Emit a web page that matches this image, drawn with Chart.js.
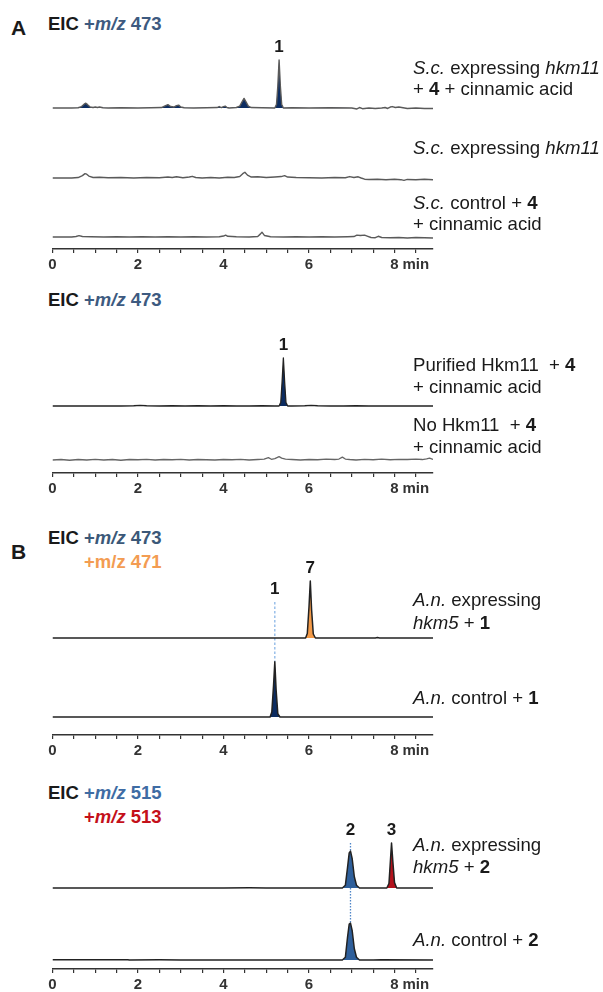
<!DOCTYPE html>
<html>
<head>
<meta charset="utf-8">
<script src="https://cdn.jsdelivr.net/npm/chart.js@4.4.1/dist/chart.umd.min.js"></script>
<style>
  html, body { margin: 0; padding: 0; background: #fff; overflow: hidden; }
  #fig { position: relative; width: 603px; height: 992px; font-family: 'Liberation Sans', Arial, sans-serif; color: #1a1a1a; }
  canvas { position: absolute; left: 0; }
  .lbl { position: absolute; left: 413px; font-size: 18.6px; line-height: 22px; white-space: nowrap; }
  .head { position: absolute; left: 48px; font-size: 18.5px; font-weight: bold; line-height: 24px; white-space: nowrap; }
  .panel { position: absolute; left: 11px; font-size: 21px; font-weight: bold; line-height: 24px; }
</style>
</head>
<body>
<div id="fig">
  <div class="panel" style="top:16px">A</div>
  <div class="head" style="top:12px">EIC <span style="color:#3d5a80">+<i>m/z</i> 473</span></div>
  <canvas id="g1" width="603" height="247" style="top:30px"></canvas>
  <div class="lbl" style="top:57px"><i>S.c.</i> expressing <i>hkm11</i></div>
  <div class="lbl" style="top:78px">+ <b>4</b> + cinnamic acid</div>
  <div class="lbl" style="top:137px"><i>S.c.</i> expressing <i>hkm11</i></div>
  <div class="lbl" style="top:192px"><i>S.c.</i> control + <b>4</b></div>
  <div class="lbl" style="top:213px">+ cinnamic acid</div>

  <div class="head" style="top:288px">EIC <span style="color:#3d5a80">+<i>m/z</i> 473</span></div>
  <canvas id="g2" width="603" height="181" style="top:320px"></canvas>
  <div class="lbl" style="top:354px">Purified Hkm11&nbsp; + <b>4</b></div>
  <div class="lbl" style="top:376px">+ cinnamic acid</div>
  <div class="lbl" style="top:414px">No Hkm11&nbsp; + <b>4</b></div>
  <div class="lbl" style="top:436px">+ cinnamic acid</div>

  <div class="panel" style="top:540px">B</div>
  <div class="head" style="top:526px">EIC <span style="color:#3b5878">+<i>m/z</i> 473</span><br><span style="visibility:hidden">EIC </span><span style="color:#f39c52">+m/z 471</span></div>
  <canvas id="g3" width="603" height="213" style="top:550px"></canvas>
  <div class="lbl" style="top:589px"><i>A.n.</i> expressing</div>
  <div class="lbl" style="top:612px"><i>hkm5</i> + <b>1</b></div>
  <div class="lbl" style="top:687px"><i>A.n.</i> control + <b>1</b></div>

  <div class="head" style="top:781px">EIC <span style="color:#3e6ca4">+<i>m/z</i> 515</span><br><span style="visibility:hidden">EIC </span><span style="color:#c4101a">+<i>m/z</i> 513</span></div>
  <canvas id="g4" width="603" height="192" style="top:805px"></canvas>
  <div class="lbl" style="top:834px"><i>A.n.</i> expressing</div>
  <div class="lbl" style="top:856px"><i>hkm5</i> + <b>2</b></div>
  <div class="lbl" style="top:929px"><i>A.n.</i> control + <b>2</b></div>
</div>
<script>
// retention time (min) and signal (relative units) for every trace

// A, top: S.c. expressing hkm11 + 4 + cinnamic acid
var a1Time = [0, 0.45, 0.6, 0.68, 0.74, 0.78, 0.82, 0.88, 0.95, 1.0,
  1.05, 1.1, 1.18, 1.3, 1.6, 2.0, 2.3, 2.55, 2.62, 2.7,
  2.76, 2.84, 2.9, 2.95, 3.0, 3.08, 3.3, 3.6, 3.85, 3.9,
  3.95, 4.0, 4.04, 4.08, 4.13, 4.3, 4.38, 4.44, 4.48, 4.52,
  4.58, 4.65, 4.9, 5.2, 5.24, 5.27, 5.3, 5.33, 5.36, 5.4,
  5.6, 6.0, 6.5, 7.0, 7.12, 7.18, 7.25, 7.4, 7.55, 7.7,
  7.78, 7.84, 7.9, 7.95, 8.02, 8.1, 8.3, 8.5, 8.7, 8.9];
var a1Signal = [0, 0, 0.5, 3, 8, 10, 7, 2, 1, 2,
  1, 2, 0.5, 0, 0.5, 0, 0.5, 1, 4, 7,
  3, 2, 5, 6, 2, 0.5, 0, 0.5, 1, 3,
  1, 3, 4, 1, 0, 1, 4, 14, 20, 14,
  4, 1, 0.5, 0, 8, 45, 100, 45, 8, 0,
  0.5, 0, 0.5, 0, -2, 1, -1.5, 0, -1, 0,
  1, -1, 2, 3, 1, 2, -1, 0, -1, -1];

// A, top: S.c. expressing hkm11
var a2Time = [0, 0.45, 0.6, 0.7, 0.76, 0.8, 0.85, 0.95, 1.1, 1.3,
  1.6, 1.9, 2.2, 2.5, 2.7, 2.8, 2.9, 3.05, 3.2, 3.27,
  3.35, 3.5, 3.7, 3.9, 4.1, 4.25, 4.38, 4.45, 4.5, 4.56,
  4.65, 4.8, 5.0, 5.2, 5.35, 5.43, 5.5, 5.7, 6.0, 6.3,
  6.6, 6.85, 6.95, 7.05, 7.15, 7.22, 7.3, 7.4, 7.6, 7.8,
  8.0, 8.15, 8.22, 8.3, 8.5, 8.7, 8.9];
var a2Signal = [0, 0, 1, 5, 9, 8, 4, 1, 1.5, 0.5,
  1, 0, 1, 0.5, 2, 1, 2.5, 0.5, 2, 3.5,
  1, 0, 1, 0, 1.5, 1, 3, 9, 12, 6,
  2, 2.5, 1, 2, 3, 5, 2, 1, 0.5, 0,
  1, 0.5, 3, 1, 2.5, 0, -2.5, -3, -2.5, -3.5,
  -2.5, -3.5, -5, -3, -3.5, -2.5, -3.5];

// A, top: S.c. control + 4 + cinnamic acid
var a3Time = [0, 0.45, 0.55, 0.62, 0.7, 0.9, 1.2, 1.5, 1.8, 2.1,
  2.4, 2.7, 3.0, 3.3, 3.6, 3.9, 4.0, 4.05, 4.1, 4.3,
  4.6, 4.8, 4.86, 4.9, 4.96, 5.1, 5.4, 5.7, 6.0, 6.3,
  6.6, 6.9, 7.05, 7.12, 7.2, 7.3, 7.36, 7.45, 7.55, 7.62,
  7.7, 7.9, 8.1, 8.3, 8.5, 8.7, 8.9];
var a3Signal = [0, 0, 1, 3, 1, 0.5, 0, 0.5, 0, 0.5,
  0, 0.5, 0, 0.5, 0, 0.5, 2, 4, 1.5, 0.5,
  0, 1, 6, 10, 3, 0.5, 0, 0.5, 0, 0.5,
  0, 0.5, 1, 4, 3, 4, 2, -1, -1.5, 1.5,
  -1, -1.5, -1, -2, -1, -1.5, -2];

// A, bottom: purified Hkm11 + 4 + cinnamic acid
var b1Time = [0, 0.4, 0.8, 1.2, 1.6, 1.9, 2.05, 2.2, 2.5, 2.8,
  3.1, 3.4, 3.7, 4.0, 4.3, 4.6, 4.9, 5.2, 5.3, 5.34,
  5.37, 5.4, 5.43, 5.46, 5.5, 5.6, 5.9, 6.05, 6.2, 6.5,
  6.8, 7.1, 7.4, 7.7, 8.0, 8.3, 8.6, 8.9];
var b1Signal = [0, 0, 0, 0, 0, 0.5, 1.5, 0.5, 0, 0.5,
  0, 0.5, 0, 0.5, 0, 0, 0.5, 0, 0, 8,
  50, 100, 50, 8, 0, 0, 0.5, 1.5, 0.5, 0,
  0, 0.5, 0, 0, 0, 0, 0, 0];

// A, bottom: no Hkm11 + 4 + cinnamic acid
var b2Time = [0, 0.2, 0.4, 0.6, 0.8, 1.0, 1.2, 1.4, 1.6, 1.8,
  2.0, 2.2, 2.4, 2.6, 2.8, 3.0, 3.2, 3.4, 3.6, 3.8,
  4.0, 4.2, 4.4, 4.6, 4.8, 4.95, 5.05, 5.12, 5.2, 5.3,
  5.36, 5.45, 5.6, 5.8, 6.0, 6.2, 6.4, 6.6, 6.7, 6.78,
  6.85, 6.95, 7.1, 7.3, 7.5, 7.7, 7.9, 8.1, 8.3, 8.5,
  8.65, 8.75, 8.82, 8.9];
var b2Signal = [0, 1, -0.5, 1, 0, 1.5, 0, 1, -0.5, 1,
  0.5, 1.5, 0, 1, 0.5, 1.5, 0, 1, 0.5, 0,
  1, 0.5, 1.5, 0, 1, 2, 5, 1.5, 3, 7,
  4, 2, 1, 0, 1, 0.5, 2, 1, 2, 6,
  2, 1, 0, 1.5, 0.5, 2, 0.5, 1.5, 1, 2,
  1, 2.5, 4, 1];

// B, top: A.n. expressing hkm5 + 1 / A.n. control + 1
var c1Time = [0, 1, 2, 3, 4, 5, 5.92, 5.96, 6.0, 6.03, 6.06, 6.1, 6.15, 6.5, 7.0, 7.55, 7.6, 7.65, 8.9];
var c1Signal = [0, 0, 0, 0, 0, 0, 0, 8, 55, 100, 50, 7, 0, 0, 0, 0, 0.8, 0, 0];
var c2Time = [0, 1, 2, 3, 4, 5, 5.09, 5.13, 5.17, 5.2, 5.23, 5.27, 5.32, 5.6, 6.5, 7.5, 8.9];
var c2Signal = [0, 0, 0, 0, 0, 0, 0, 9, 55, 97, 48, 6, 0, 0, 0, 0, 0];

// B, bottom: A.n. expressing hkm5 + 2 / A.n. control + 2
var d1Time = [0, 1, 2, 3, 4, 4.6, 5, 6, 6.78, 6.85, 6.9, 6.94, 6.97, 7.01, 7.06, 7.11, 7.18, 7.5,
  7.82, 7.87, 7.91, 7.93, 7.96, 8.0, 8.05, 8.3, 8.9];
var d1Signal = [0, 0, 0, 0, 0, 0.5, 0, 0, 0, 6, 45, 78, 82, 65, 25, 6, 0, 0,
  0, 10, 70, 100, 60, 12, 0, 0, 0];
var d2Time = [0, 1, 1.76, 1.8, 2.5, 3, 4, 5, 6, 6.78, 6.85, 6.9, 6.94, 6.97, 7.01, 7.06, 7.11, 7.18, 7.5, 7.7, 8.9];
var d2Signal = [0.5, 0.5, 0.5, 0, 0.3, 0, 0, 0, 0, 0, 6, 50, 80, 82, 65, 25, 6, 0, 0, 0.5, 0];

var timeMax = 8.9;
var majorTicks = [0, 2, 4, 6, 8];

var navy = '#0c2c61', orange = '#f39a48', blue = '#2e5f9b', red = '#b3121c';
var fontFamily = "'Liberation Sans', Arial, sans-serif";
Chart.defaults.font.family = fontFamily;

// peak numbers, guide lines and the "min" unit next to the last tick
var annotate = {
  id: 'annotate',
  beforeDatasetsDraw: function(chart, args, opts) {
    var ctx = chart.ctx, xs = chart.scales.x;
    ctx.save();
    (opts.guides || []).forEach(function(g) {
      var x = xs.getPixelForValue(g.t);
      var y0 = chart.scales['y' + g.fromTrace].getPixelForValue(g.fromValue);
      var y1 = chart.scales['y' + g.toTrace].getPixelForValue(g.toValue);
      ctx.strokeStyle = g.color;
      ctx.lineWidth = 1.3;
      ctx.setLineDash(g.dash);
      ctx.beginPath();
      ctx.moveTo(x, y0);
      ctx.lineTo(x, y1);
      ctx.stroke();
    });
    ctx.restore();
  },
  afterDraw: function(chart, args, opts) {
    var ctx = chart.ctx, xs = chart.scales.x;
    ctx.save();
    ctx.fillStyle = '#1a1a1a';
    ctx.textAlign = 'center';
    ctx.textBaseline = 'middle';
    ctx.font = 'bold 17px ' + fontFamily;
    (opts.labels || []).forEach(function(l) {
      var x = xs.getPixelForValue(l.t);
      var y = chart.scales['y' + l.trace].getPixelForValue(l.value);
      ctx.fillText(l.text, x, y - 13);
    });
    ctx.fillStyle = '#333';
    ctx.textAlign = 'left';
    ctx.font = 'bold 15px ' + fontFamily;
    ctx.fillText('min', xs.getPixelForValue(8) + 8, xs.top + 4 + 3 + 9);
    ctx.restore();
  }
};
Chart.register(annotate);

function drawGroup(id, padTop, traces, annot) {
  var scales = {
    x: {
      type: 'linear', position: 'bottom', min: 0, max: timeMax,
      border: { color: '#333', width: 1.5 },
      grid: { drawOnChartArea: false, drawTicks: true, tickLength: 4, color: '#333', lineWidth: 1.2 },
      ticks: {
        stepSize: 0.5, autoSkip: false, includeBounds: false, maxRotation: 0, padding: 3,
        color: '#333', font: { size: 15, weight: 'bold' },
        callback: function(v) { return majorTicks.indexOf(v) >= 0 ? String(v) : ''; }
      }
    }
  };
  var lines = [], fills = [];
  traces.forEach(function(tr, i) {
    var yId = 'y' + i;
    // each trace gets its own band of the plot height
    scales[yId] = {
      type: 'linear', display: false, position: 'right', stack: 'traces', stackWeight: tr.band,
      min: -tr.base / tr.k, max: (tr.band - tr.base) / tr.k
    };
    var pts = tr.time.map(function(t, j) { return { x: t, y: tr.signal[j] }; });
    lines.push({
      data: pts, yAxisID: yId, borderColor: tr.color, borderWidth: tr.width,
      pointRadius: 0, fill: false, tension: 0, borderJoinStyle: 'round'
    });
    (tr.fills || []).forEach(function(f) {
      fills.push({
        data: pts.filter(function(p) { return p.x >= f[0] && p.x <= f[1]; }),
        yAxisID: yId, borderColor: 'rgba(0,0,0,0)', borderWidth: 1, backgroundColor: f[2],
        pointRadius: 0, fill: 'origin', tension: 0
      });
    });
  });
  return new Chart(document.getElementById(id), {
    type: 'line',
    data: { datasets: lines.concat(fills) },
    options: {
      responsive: false, animation: false, events: [],
      layout: { padding: { top: padTop, left: 52.5, right: 170, bottom: 0 } },
      scales: scales,
      plugins: { legend: { display: false }, tooltip: { enabled: false }, annotate: annot }
    }
  });
}

var grayLine = '#5a5a5a', darkLine = '#222';

drawGroup('g1', 10, [
  { time: a1Time, signal: a1Signal, band: 75, base: 7, k: 0.48, color: grayLine, width: 1.4, fills: [[0.45, 7.0, navy]] },
  { time: a2Time, signal: a2Signal, band: 70, base: 7, k: 0.48, color: grayLine, width: 1.4 },
  { time: a3Time, signal: a3Signal, band: 64, base: 12, k: 0.48, color: grayLine, width: 1.4 }
], { labels: [{ text: '1', trace: 0, t: 5.3, value: 100 }] });

drawGroup('g2', 15, [
  { time: b1Time, signal: b1Signal, band: 80, base: 9, k: 0.48, color: darkLine, width: 1.3, fills: [[5.3, 5.5, navy]] },
  { time: b2Time, signal: b2Signal, band: 58, base: 13, k: 0.48, color: '#666', width: 1.3 }
], { labels: [{ text: '1', trace: 0, t: 5.4, value: 100 }] });

drawGroup('g3', 10, [
  { time: c1Time, signal: c1Signal, band: 90, base: 12, k: 0.57, color: darkLine, width: 1.5, fills: [[5.92, 6.15, orange]] },
  { time: c2Time, signal: c2Signal, band: 85, base: 18, k: 0.57, color: darkLine, width: 1.5, fills: [[5.09, 5.32, navy]] }
], {
  labels: [{ text: '7', trace: 0, t: 6.03, value: 100 }, { text: '1', trace: 0, t: 5.2, value: 63 }],
  guides: [{ t: 5.2, fromTrace: 0, fromValue: 63, toTrace: 1, toValue: 97, color: '#8ab6e6', dash: [2.5, 2] }]
});

drawGroup('g4', 15, [
  { time: d1Time, signal: d1Signal, band: 80, base: 12, k: 0.45, color: darkLine, width: 1.5, fills: [[6.78, 7.18, blue], [7.82, 8.05, red]] },
  { time: d2Time, signal: d2Signal, band: 69, base: 9, k: 0.45, color: darkLine, width: 1.5, fills: [[6.78, 7.18, blue]] }
], {
  labels: [{ text: '2', trace: 0, t: 6.97, value: 100 }, { text: '3', trace: 0, t: 7.93, value: 100 }],
  guides: [{ t: 6.97, fromTrace: 0, fromValue: 100, toTrace: 1, toValue: 82, color: '#4f86c8', dash: [1.5, 1.5] }]
});
</script>
</body>
</html>
